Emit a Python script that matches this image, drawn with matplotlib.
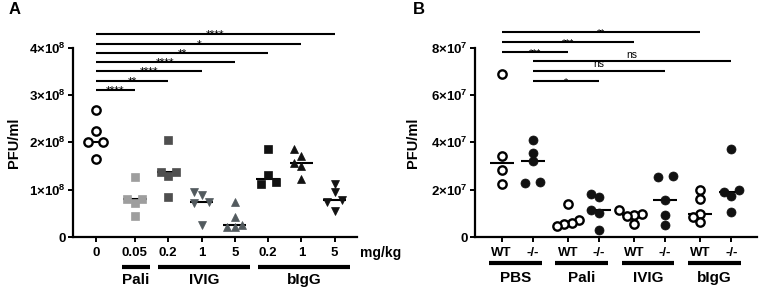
import numpy as np
import matplotlib
matplotlib.use('Agg')
import matplotlib.pyplot as plt
from matplotlib.ticker import FixedLocator, FixedFormatter

plt.rcParams['font.family'] = ['Liberation Sans', 'DejaVu Sans']
plt.rcParams['mathtext.fontset'] = 'custom'
plt.rcParams['mathtext.rm'] = 'Liberation Sans'
plt.rcParams['mathtext.bf'] = 'Liberation Sans:bold'
plt.rcParams['mathtext.it'] = 'Liberation Sans:italic'

# ---------------- data: panel A (PFU/ml, x1e8) ----------------
a_dose_labels = ['0', '0.05', '0.2', '1', '5', '0.2', '1', '5']
a_ctrl = [2.69, 2.23, 2.01, 2.01, 1.64]
a_pali_005 = [1.26, 0.80, 0.80, 0.71, 0.45]
a_ivig_02 = [2.04, 1.38, 1.38, 1.29, 0.84]
a_ivig_1 = [0.96, 0.89, 0.75, 0.71, 0.25]
a_ivig_5 = [0.75, 0.42, 0.25, 0.22, 0.21]
a_bigg_02 = [1.85, 1.31, 1.16, 1.11]
a_bigg_1 = [1.85, 1.71, 1.57, 1.50, 1.22]
a_bigg_5 = [1.13, 0.96, 0.78, 0.75, 0.55]
a_group_names = ['Pali', 'IVIG', 'bIgG']
a_group_members = [(1, 1), (2, 4), (5, 7)]
a_sig_targets = [1, 2, 3, 4, 5, 6, 7]
a_sig_labels = ['****', '**', '****', '****', '**', '*', '****']
a_yticks = [0, 1, 2, 3, 4]

# ---------------- data: panel B (PFU/ml, x1e7) ----------------
b_cond_labels = ['WT', '-/-', 'WT', '-/-', 'WT', '-/-', 'WT', '-/-']
b_pbs_wt = [6.9, 3.43, 2.85, 2.23]
b_pbs_ko = [4.10, 3.57, 3.20, 2.33, 2.28]
b_pali_wt = [1.41, 0.71, 0.59, 0.54, 0.45]
b_pali_ko = [1.83, 1.67, 1.16, 1.01, 0.28]
b_ivig_wt = [1.16, 0.97, 0.95, 0.87, 0.57]
b_ivig_ko = [2.57, 2.55, 1.55, 0.92, 0.49]
b_bigg_wt = [1.97, 1.62, 0.99, 0.85, 0.63]
b_bigg_ko = [3.70, 1.97, 1.90, 1.72, 1.06]
b_group_names = ['PBS', 'Pali', 'IVIG', 'bIgG']
b_sig_pairs = [(1, 3), (1, 5), (1, 7), (0, 2), (0, 4), (0, 6)]
b_sig_labels = ['*', 'ns', 'ns', '***', '***', '**']
b_yticks = [0, 2, 4, 6, 8]

W, H = 765, 294
fig = plt.figure(figsize=(W / 100, H / 100), dpi=100)

PX_UNIT = 33.3  # px per x unit


def axes_rect(left_px, right_px, top_px, bottom_px):
    return [left_px / W, (H - bottom_px) / H, (right_px - left_px) / W, (bottom_px - top_px) / H]


def beeswarm(vals, px_per_y, step_px=7.5, dmin=8.0, row_tol=3.0):
    """Place points in rows (GraphPad-like scatter)."""
    vals = np.asarray(vals, float)
    order = list(np.argsort(vals))
    offs = np.zeros(len(vals))
    # cluster consecutive values that are nearly equal in pixel space
    clusters = []
    for i in order:
        if clusters and (vals[i] - vals[clusters[-1][-1]]) * px_per_y < row_tol:
            clusters[-1].append(i)
        else:
            clusters.append([i])
    placed = []
    for cl in clusters:
        n = len(cl)
        if n == 1:
            yp = vals[cl[0]] * px_per_y
            for k in [0, -1, 1, -2, 2]:
                xp = k * step_px
                if all(np.hypot(xp - px, yp - py) >= dmin for px, py in placed):
                    break
            offs[cl[0]] = xp / PX_UNIT
            placed.append((xp, yp))
        else:
            for k, i in enumerate(cl):
                xp = (k - (n - 1) / 2) * step_px * (2.0 if n == 2 else 1.0)
                offs[i] = xp / PX_UNIT
                placed.append((xp, vals[i] * px_per_y))
    return offs


def style_axes(ax):
    for s in ['top', 'right']:
        ax.spines[s].set_visible(False)
    for s in ['left', 'bottom']:
        ax.spines[s].set_linewidth(1.6)
        ax.spines[s].set_color('black')
    ax.tick_params(axis='both', width=1.4, length=3.5, color='black')
    ax.tick_params(axis='x', pad=3.5)
    ax.tick_params(axis='y', pad=1.5)


# ===================== Panel A =====================
axA = fig.add_axes(axes_rect(73, 357.3, 47.7, 237))
style_axes(axA)
a_pos = [0.0] + [1.17 + i for i in range(7)]
a_sets = [a_ctrl, a_pali_005, a_ivig_02, a_ivig_1, a_ivig_5, a_bigg_02, a_bigg_1, a_bigg_5]
a_markers = ['o', 's', 's', 'v', '^', 's', '^', 'v']
a_colors = ['white', '#9e9e9e', '#4f4f4f', '#525a5e', '#525a5e', '#111111', '#111111', '#111111']
a_ms = [6, 5.2, 5.2, 5.6, 5.6, 5.2, 5.6, 5.6]
pxA = 189.3 / 4.0
for x, vals, m, c, ms in zip(a_pos, a_sets, a_markers, a_colors, a_ms):
    v = np.array(vals)
    offs = beeswarm(v, pxA)
    axA.hlines(np.median(v), x - 0.35, x + 0.35, colors='black', lw=1.5, zorder=2)
    if c == 'white':
        axA.plot(x + offs, v, ls='none', marker=m, ms=ms, mfc='white', mec='black', mew=1.7, zorder=3)
    else:
        axA.plot(x + offs, v, ls='none', marker=m, ms=ms, mfc=c, mec=c, mew=0.5, zorder=3)
axA.set_xlim(-0.69, 7.85)
axA.set_ylim(0, 4)
axA.xaxis.set_major_locator(FixedLocator(a_pos))
axA.xaxis.set_major_formatter(FixedFormatter(a_dose_labels))
axA.yaxis.set_major_locator(FixedLocator(a_yticks))
axA.yaxis.set_major_formatter(FixedFormatter(
    ['0' if t == 0 else r'$\mathbf{%d{\times}10^{8}}$' % t for t in a_yticks]))
for lab in axA.get_xticklabels() + axA.get_yticklabels():
    lab.set_fontweight('bold')
    lab.set_fontsize(9.5)

# significance bars A
for i, (t, s) in enumerate(zip(a_sig_targets, a_sig_labels)):
    y = 3.11 + 0.195 * i
    axA.plot([a_pos[0], a_pos[t]], [y, y], color='black', lw=1.5, clip_on=False, solid_capstyle='butt')
    axA.annotate(s, ((a_pos[0] + a_pos[t]) / 2, y), xytext=(0, -3.2), textcoords='offset points',
                 ha='center', va='baseline', fontsize=8.5, annotation_clip=False)

# group lines A
trA = axA.get_xaxis_transform()
for name, (i0, i1) in zip(a_group_names, a_group_members):
    x0 = a_pos[i0] - 0.40 + (0.0 if i0 == i1 else 0.1)
    x1 = a_pos[i1] + 0.45
    yl = (237 - 266.7) / 189.3
    axA.plot([x0, x1], [yl, yl], color='black', lw=3, transform=trA, clip_on=False, solid_capstyle='butt')
    axA.text((x0 + x1) / 2, (237 - 280) / 189.3, name, transform=trA, ha='center', va='center',
             fontsize=11, fontweight='bold')
axA.text((381 - 96) / PX_UNIT, (237 - 253) / 189.3, 'mg/kg', transform=trA, ha='center', va='center',
         fontsize=10, fontweight='bold')

fig.text(14 / W, (H - 143) / H, 'PFU/ml', rotation=90, ha='center', va='center', fontsize=10.5,
         fontweight='bold')
fig.text(15 / W, (H - 10) / H, 'A', ha='center', va='center', fontsize=12, fontweight='bold')

# ===================== Panel B =====================
axB = fig.add_axes(axes_rect(475, 756.7, 47.7, 237))
style_axes(axB)
b_pos = [g * 1.99 + k * 0.93 for g in range(4) for k in range(2)]
b_sets = [b_pbs_wt, b_pbs_ko, b_pali_wt, b_pali_ko, b_ivig_wt, b_ivig_ko, b_bigg_wt, b_bigg_ko]
pxB = 189.3 / 8.0
for j, (x, vals) in enumerate(zip(b_pos, b_sets)):
    v = np.array(vals)
    offs = beeswarm(v, pxB)
    axB.hlines(np.median(v), x - 0.36, x + 0.36, colors='black', lw=1.5, zorder=2)
    if j % 2 == 0:
        axB.plot(x + offs, v, ls='none', marker='o', ms=6, mfc='white', mec='black', mew=1.7, zorder=3)
    else:
        axB.plot(x + offs, v, ls='none', marker='o', ms=6.5, mfc='#111111', mec='#111111', mew=0.5, zorder=3)
axB.set_xlim(-0.80, 7.66)
axB.set_ylim(0, 8)
axB.xaxis.set_major_locator(FixedLocator(b_pos))
axB.xaxis.set_major_formatter(FixedFormatter(b_cond_labels))
axB.yaxis.set_major_locator(FixedLocator(b_yticks))
axB.yaxis.set_major_formatter(FixedFormatter(
    ['0' if t == 0 else r'$\mathbf{%d{\times}10^{7}}$' % t for t in b_yticks]))
for lab in axB.get_xticklabels() + axB.get_yticklabels():
    lab.set_fontweight('bold')
    lab.set_fontsize(9.5)

for i, ((p0, p1), s) in enumerate(zip(b_sig_pairs, b_sig_labels)):
    y = 6.6 + 0.413 * i
    axB.plot([b_pos[p0], b_pos[p1]], [y, y], color='black', lw=1.5, clip_on=False, solid_capstyle='butt')
    if s == 'ns':
        axB.annotate(s, ((b_pos[p0] + b_pos[p1]) / 2, y), xytext=(0, 1.2), textcoords='offset points',
                     ha='center', va='bottom', fontsize=7.5, annotation_clip=False)
    else:
        axB.annotate(s, ((b_pos[p0] + b_pos[p1]) / 2, y), xytext=(0, -3.0), textcoords='offset points',
                     ha='center', va='baseline', fontsize=7.5, annotation_clip=False)

trB = axB.get_xaxis_transform()
for g, name in enumerate(b_group_names):
    x0 = b_pos[2 * g] - 0.38
    x1 = b_pos[2 * g + 1] + 0.28
    yl = (237 - 263.3) / 189.3
    axB.plot([x0, x1], [yl, yl], color='black', lw=3, transform=trB, clip_on=False, solid_capstyle='butt')
    axB.text((x0 + x1) / 2, (237 - 278.3) / 189.3, name, transform=trB, ha='center', va='center',
             fontsize=11, fontweight='bold')

fig.text(413 / W, (H - 143) / H, 'PFU/ml', rotation=90, ha='center', va='center', fontsize=10.5,
         fontweight='bold')
fig.text(419 / W, (H - 10) / H, 'B', ha='center', va='center', fontsize=12, fontweight='bold')

fig.savefig('out.png', dpi=100)
